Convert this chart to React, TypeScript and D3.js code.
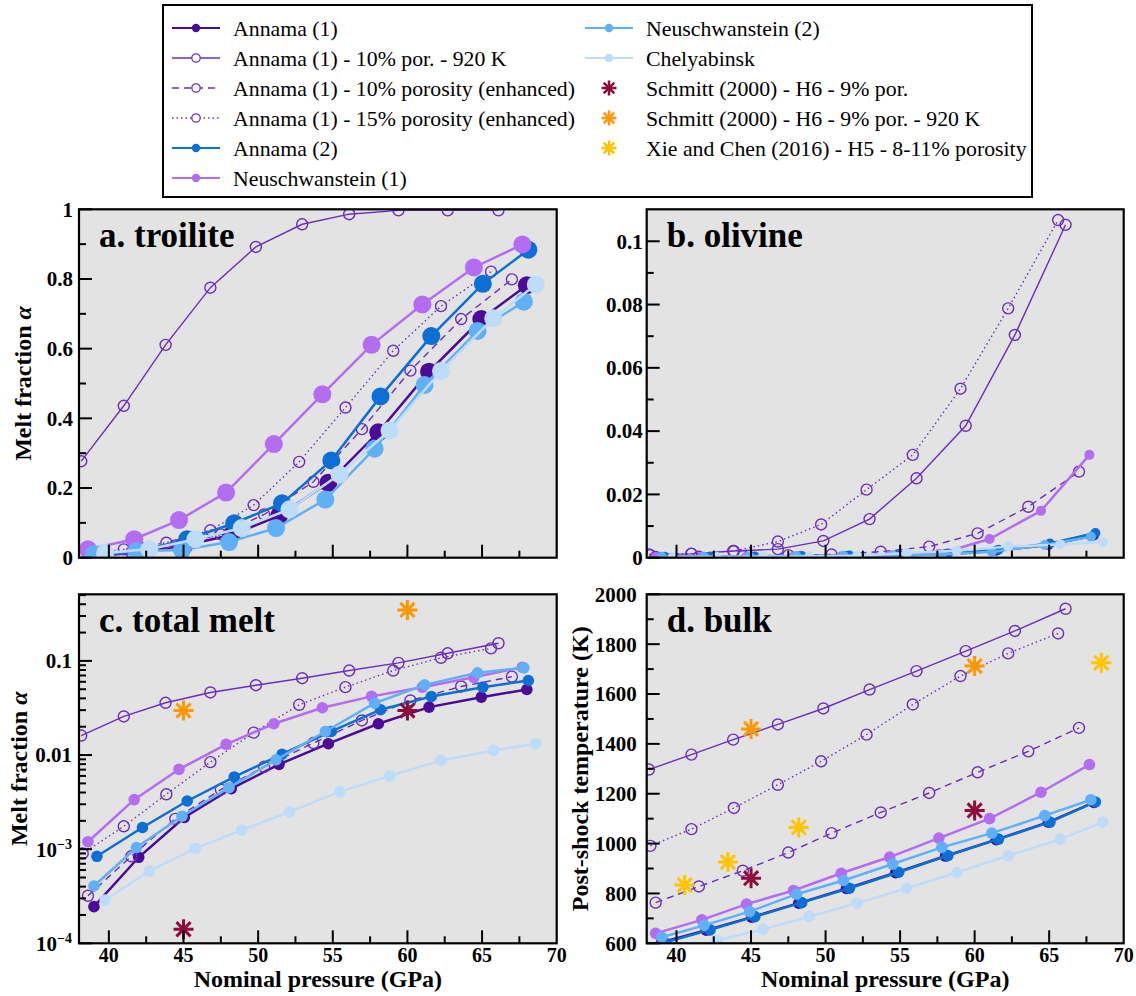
import React from "react";
import * as d3 from "d3";

const W = 1136;
const H = 996;

// Nominal pressures (GPa) for each simulation series
const P_A1 = [39.0, 42.0, 45.05, 48.2, 51.4, 54.7, 58.05, 61.45, 64.95, 68.0];
const P_A1_920 = [38.15, 41.0, 43.8, 46.8, 49.85, 52.95, 56.1, 59.4, 62.7, 66.1];
const P_A1_10E = [38.6, 41.5, 44.45, 47.5, 50.4, 53.7, 56.95, 60.2, 63.6, 67.0];
const P_A1_15E = [38.25, 41.0, 43.85, 46.8, 49.7, 52.75, 55.85, 59.05, 62.25, 65.6];
const P_A2 = [39.2, 42.25, 45.25, 48.4, 51.6, 54.9, 58.2, 61.6, 65.05, 68.1];
const P_N1 = [38.6, 41.7, 44.7, 47.85, 51.05, 54.3, 57.6, 61.0, 64.45, 67.7];
const P_N2 = [39.0, 41.85, 44.9, 48.05, 51.2, 54.5, 57.8, 61.15, 64.7, 67.8];
const P_CH = [39.75, 42.7, 45.8, 48.9, 52.1, 55.45, 58.8, 62.25, 65.75, 68.6];

// a. troilite melt fraction
const TRO_A1 = [0.005, 0.015, 0.035, 0.065, 0.12, 0.215, 0.36, 0.534, 0.685, 0.782];
const TRO_A1_920 = [0.277, 0.436, 0.611, 0.775, 0.892, 0.957, 0.986, 0.997, 0.997, 0.997];
const TRO_A1_10E = [0.003, 0.015, 0.035, 0.067, 0.124, 0.218, 0.369, 0.537, 0.685, 0.799];
const TRO_A1_15E = [0.008, 0.024, 0.043, 0.079, 0.151, 0.275, 0.431, 0.594, 0.722, 0.821];
const TRO_A2 = [0.006, 0.02, 0.053, 0.099, 0.156, 0.279, 0.463, 0.636, 0.786, 0.884];
const TRO_N1 = [0.024, 0.053, 0.108, 0.187, 0.326, 0.469, 0.611, 0.727, 0.833, 0.899];
const TRO_N2 = [0.01, 0.019, 0.022, 0.045, 0.085, 0.167, 0.313, 0.496, 0.651, 0.735];
const TRO_CH = [0.014, 0.024, 0.053, 0.085, 0.139, 0.239, 0.365, 0.536, 0.687, 0.784];

// b. olivine melt fraction
const OLI_A1 = [0.0002, 0.0002, 0.0003, 0.0004, 0.0005, 0.0007, 0.0011, 0.0022, 0.004, 0.007];
const OLI_A1_920 = [0.001, 0.0012, 0.0021, 0.0027, 0.0053, 0.0122, 0.0251, 0.0417, 0.0704, 0.1052];
const OLI_A1_10E = [0.0002, 0.0003, 0.0005, 0.0008, 0.001, 0.0019, 0.0035, 0.0077, 0.0161, 0.0272];
const OLI_A1_15E = [0.0008, 0.0013, 0.0021, 0.0051, 0.0105, 0.0215, 0.0325, 0.0534, 0.0788, 0.1067];
const OLI_A2 = [0.0003, 0.0003, 0.0004, 0.0005, 0.0007, 0.0009, 0.0013, 0.0025, 0.0045, 0.0078];
const OLI_N1 = [0.0002, 0.0002, 0.0003, 0.0003, 0.0004, 0.0006, 0.0012, 0.0059, 0.0148, 0.0325];
const OLI_N2 = [0.0003, 0.0003, 0.0004, 0.0005, 0.0006, 0.0008, 0.001, 0.0019, 0.004, 0.0066];
const OLI_CH = [0.0002, 0.0002, 0.0003, 0.0004, 0.0006, 0.0015, 0.0022, 0.0035, 0.0042, 0.005];

// c. total melt fraction
const TOT_A1 = [0.000245, 0.00082, 0.00217, 0.0044, 0.00796, 0.0132, 0.0215, 0.0323, 0.0412, 0.0497];
const TOT_A1_920 = [0.0161, 0.0257, 0.0359, 0.0462, 0.0552, 0.0655, 0.079, 0.0953, 0.1205, 0.154];
const TOT_A1_10E = [0.00032, 0.00084, 0.0021, 0.0043, 0.0075, 0.0134, 0.0233, 0.038, 0.0535, 0.068];
const TOT_A1_15E = [0.0009, 0.00175, 0.00383, 0.0084, 0.0173, 0.0342, 0.0526, 0.079, 0.108, 0.136];
const TOT_A2 = [0.00084, 0.0017, 0.00325, 0.00585, 0.0102, 0.0178, 0.0303, 0.0419, 0.0526, 0.0619];
const TOT_N1 = [0.0012, 0.00336, 0.00705, 0.013, 0.0215, 0.0318, 0.042, 0.0526, 0.067, 0.0857];
const TOT_N2 = [0.000406, 0.00104, 0.00224, 0.0045, 0.0089, 0.0178, 0.0355, 0.0557, 0.0747, 0.0843];
const TOT_CH = [0.000288, 0.000585, 0.00102, 0.00159, 0.00249, 0.00406, 0.00598, 0.00877, 0.0112, 0.0132];

// d. bulk post-shock temperature (K)
const BLK_A1 = [604, 653, 705, 761, 820, 883, 950, 1016, 1086, 1165];
const BLK_A1_920 = [1297, 1357, 1417, 1478, 1542, 1618, 1692, 1772, 1853, 1942];
const BLK_A1_10E = [763, 828, 891, 964, 1042, 1125, 1203, 1286, 1370, 1464];
const BLK_A1_15E = [991, 1058, 1143, 1236, 1330, 1437, 1558, 1672, 1763, 1843];
const BLK_A2 = [603, 654, 707, 763, 821, 885, 952, 1018, 1086, 1167];
const BLK_N1 = [640, 694, 757, 812, 881, 946, 1022, 1100, 1206, 1317];
const BLK_N2 = [624, 672, 727, 797, 852, 918, 985, 1042, 1112, 1176];
const BLK_CH = [565, 611, 656, 707, 761, 821, 884, 951, 1018, 1086];

// Experimental references (asterisks)
const SCH_P = [45, 60];
const SCH_TOT = [0.000141, 0.0297];
const SCH_BLK = [861, 1133];
const SCH920_P = [45, 60];
const SCH920_TOT = [0.0297, 0.348];
const SCH920_BLK = [1460, 1712];
const XIE_P = [40.55, 43.45, 48.2, 68.5];
const XIE_BLK = [834, 926, 1065, 1725];

const X_TICKS = [40, 42.5, 45, 47.5, 50, 52.5, 55, 57.5, 60, 62.5, 65, 67.5];
const X_LABELS = [40, 45, 50, 55, 60, 65, 70];

const C_A1 = "#4b0a98";
const C_OPEN = "#6b2ec2";
const C_A2 = "#0b6fd6";
const C_N1 = "#b36cf2";
const C_N2 = "#5fb0f6";
const C_CH = "#bcdcfa";
const C_SCH = "#8e0b3b";
const C_SCH920 = "#ff9800";
const C_XIE = "#ffc400";

const FONT = "'Liberation Serif', 'Times New Roman', Times, serif";

type Series = {
  name: string;
  color: string;
  filled: boolean;
  dash: string | null;
  lw: number;
  P: number[];
  vals: { a: number[]; b: number[]; c: number[]; d: number[] };
};

const SERIES: Series[] = [
  { name: "Annama (1)", color: C_A1, filled: true, dash: null, lw: 2.5, P: P_A1, vals: { a: TRO_A1, b: OLI_A1, c: TOT_A1, d: BLK_A1 } },
  { name: "Annama (1) - 10% por. - 920 K", color: C_OPEN, filled: false, dash: null, lw: 1.4, P: P_A1_920, vals: { a: TRO_A1_920, b: OLI_A1_920, c: TOT_A1_920, d: BLK_A1_920 } },
  { name: "Annama (1) - 10% porosity (enhanced)", color: C_OPEN, filled: false, dash: "7,5", lw: 1.4, P: P_A1_10E, vals: { a: TRO_A1_10E, b: OLI_A1_10E, c: TOT_A1_10E, d: BLK_A1_10E } },
  { name: "Annama (1) - 15% porosity (enhanced)", color: C_OPEN, filled: false, dash: "1.5,3", lw: 1.4, P: P_A1_15E, vals: { a: TRO_A1_15E, b: OLI_A1_15E, c: TOT_A1_15E, d: BLK_A1_15E } },
  { name: "Annama (2)", color: C_A2, filled: true, dash: null, lw: 2.5, P: P_A2, vals: { a: TRO_A2, b: OLI_A2, c: TOT_A2, d: BLK_A2 } },
  { name: "Neuschwanstein (1)", color: C_N1, filled: true, dash: null, lw: 2.5, P: P_N1, vals: { a: TRO_N1, b: OLI_N1, c: TOT_N1, d: BLK_N1 } },
  { name: "Neuschwanstein (2)", color: C_N2, filled: true, dash: null, lw: 2.5, P: P_N2, vals: { a: TRO_N2, b: OLI_N2, c: TOT_N2, d: BLK_N2 } },
  { name: "Chelyabinsk", color: C_CH, filled: true, dash: null, lw: 2.5, P: P_CH, vals: { a: TRO_CH, b: OLI_CH, c: TOT_CH, d: BLK_CH } },
];

type Star = { name: string; color: string; P: number[]; c: number[] | null; d: number[] | null };
const STARS: Star[] = [
  { name: "Schmitt (2000) - H6 - 9% por.", color: C_SCH, P: SCH_P, c: SCH_TOT, d: SCH_BLK },
  { name: "Schmitt (2000) - H6 - 9% por. - 920 K", color: C_SCH920, P: SCH920_P, c: SCH920_TOT, d: SCH920_BLK },
  { name: "Xie and Chen (2016) - H5 - 8-11% porosity", color: C_XIE, P: XIE_P, c: null, d: XIE_BLK },
];

type PanelDef = {
  key: "a" | "b" | "c" | "d";
  title: string;
  left: number;
  right: number;
  top: number;
  bottom: number;
  log: boolean;
  domain: [number, number];
  major: number[];
  minor: number[];
  labels: (v: number) => React.ReactNode;
  labelGap: number;
  xLabels: boolean;
  rFilled: number;
  rOpen: number;
  yTitle: string | null;
  yTitleX: number;
};

const fmtLin = (v: number) => String(+v.toFixed(3));
const logMinor: number[] = [];
for (let e = -4; e <= -1; e++) for (let k = 2; k <= 9; k++) { const v = k * Math.pow(10, e); if (v <= 0.51) logMinor.push(v); }

const PANELS: PanelDef[] = [
  { key: "a", title: "a. troilite", left: 79, right: 556.7, top: 209.3, bottom: 557.7, log: false, domain: [0, 1],
    major: [0, 0.2, 0.4, 0.6, 0.8, 1], minor: [0.1, 0.3, 0.5, 0.7, 0.9], labels: fmtLin, labelGap: 6, xLabels: false,
    rFilled: 9, rOpen: 5.5, yTitle: "Melt fraction", yTitleX: 23 },
  { key: "b", title: "b. olivine", left: 646.7, right: 1123.7, top: 209.3, bottom: 557.7, log: false, domain: [0, 0.1101],
    major: [0, 0.02, 0.04, 0.06, 0.08, 0.1], minor: [0.01, 0.03, 0.05, 0.07, 0.09], labels: fmtLin, labelGap: 4, xLabels: false,
    rFilled: 5, rOpen: 5.5, yTitle: null, yTitleX: 0 },
  { key: "c", title: "c. total melt", left: 79, right: 556.7, top: 594.3, bottom: 943.3, log: true, domain: [1e-4, 0.51],
    major: [1e-4, 1e-3, 1e-2, 1e-1], minor: logMinor,
    labels: (v: number) => v >= 0.01 ? String(v) : (<><tspan>10</tspan><tspan dy={-8} fontSize={14}>{"\u2212" + Math.round(-Math.log10(v))}</tspan></>),
    labelGap: 7, xLabels: true, rFilled: 5.8, rOpen: 5.5, yTitle: "Melt fraction", yTitleX: 19 },
  { key: "d", title: "d. bulk", left: 646.7, right: 1123.7, top: 594.3, bottom: 943.3, log: false, domain: [600, 2000],
    major: [600, 800, 1000, 1200, 1400, 1600, 1800, 2000], minor: [700, 900, 1100, 1300, 1500, 1700, 1900], labels: fmtLin,
    labelGap: 10, xLabels: true, rFilled: 5.8, rOpen: 5.5, yTitle: "Post-shock temperature (K)", yTitleX: 580 },
];

function starPath(cx: number, cy: number, r: number) {
  let d = "";
  for (let i = 0; i < 4; i++) {
    const a = (i * Math.PI) / 4;
    const dx = Math.cos(a) * r, dy = Math.sin(a) * r;
    d += `M${cx - dx},${cy - dy}L${cx + dx},${cy + dy}`;
  }
  return d;
}

function Panel({ p }: { p: PanelDef }) {
  const x = d3.scaleLinear().domain([38, 70]).range([p.left, p.right]);
  const y = p.log
    ? d3.scaleLog().domain(p.domain).range([p.bottom, p.top])
    : d3.scaleLinear().domain(p.domain).range([p.bottom, p.top]);
  const clipId = "clip-" + p.key;
  const midY = (p.top + p.bottom) / 2;
  const midX = (p.left + p.right) / 2;
  return (
    <g>
      <defs>
        <clipPath id={clipId}>
          <rect x={p.left} y={p.top} width={p.right - p.left} height={p.bottom - p.top} />
        </clipPath>
      </defs>
      <rect x={p.left} y={p.top} width={p.right - p.left} height={p.bottom - p.top} fill="#e3e3e3" />
      <g clipPath={`url(#${clipId})`}>
        {SERIES.map((s, i) => {
          const vals = s.vals[p.key];
          const pts: [number, number][] = s.P.map((pp, j) => [pp, vals[j]]);
          const line = d3.line<[number, number]>().x((d) => x(d[0])).y((d) => y(d[1]));
          const r = s.filled ? p.rFilled : p.rOpen;
          return (
            <g key={i}>
              <path d={line(pts) || ""} fill="none" stroke={s.color} strokeWidth={s.lw}
                strokeDasharray={s.dash || undefined} />
              {pts.map((d, j) => (
                <circle key={j} cx={x(d[0])} cy={y(d[1])} r={r}
                  fill={s.filled ? s.color : "none"} stroke={s.color} strokeWidth={s.filled ? 0 : 1.4} />
              ))}
            </g>
          );
        })}
        {STARS.map((s, i) => {
          const vals = p.key === "c" ? s.c : p.key === "d" ? s.d : null;
          if (!vals) return null;
          return (
            <g key={"s" + i}>
              {s.P.map((pp, j) => (
                <path key={j} d={starPath(x(pp), y(vals[j]), 10)} stroke={s.color} strokeWidth={3} fill="none" />
              ))}
            </g>
          );
        })}
      </g>
      {X_TICKS.map((t) => {
        const major = t % 5 === 0;
        return <line key={"xt" + t} x1={x(t)} x2={x(t)} y1={p.bottom} y2={p.bottom - (major ? 13 : 7)} stroke="#000" strokeWidth={2} />;
      })}
      {p.major.map((t) => (
        <line key={"ym" + t} x1={p.left} x2={p.left + 13} y1={y(t)} y2={y(t)} stroke="#000" strokeWidth={2} />
      ))}
      {p.minor.map((t) => (
        <line key={"yn" + t} x1={p.left} x2={p.left + 7} y1={y(t)} y2={y(t)} stroke="#000" strokeWidth={2} />
      ))}
      <rect x={p.left} y={p.top} width={p.right - p.left} height={p.bottom - p.top} fill="none" stroke="#000" strokeWidth={2.2} />
      {p.major.map((t) => (
        <text key={"yl" + t} x={p.left - p.labelGap} y={y(t)} dy="0.35em" textAnchor="end"
          fontFamily={FONT} fontWeight="bold" fontSize={21}>{p.labels(t)}</text>
      ))}
      {p.xLabels && X_LABELS.map((t) => (
        <text key={"xl" + t} x={x(t)} y={p.bottom + 19} textAnchor="middle"
          fontFamily={FONT} fontWeight="bold" fontSize={20}>{t}</text>
      ))}
      {p.xLabels && (
        <text x={midX} y={987} textAnchor="middle" fontFamily={FONT} fontWeight="bold" fontSize={24}>Nominal pressure (GPa)</text>
      )}
      {p.yTitle && (
        <text transform={`translate(${p.yTitleX},${midY}) rotate(-90)`} textAnchor="middle" dy="0.35em"
          fontFamily={FONT} fontWeight="bold" fontSize={24}>
          {p.yTitle}
          {p.yTitle === "Melt fraction" && <tspan fontStyle="italic">{" \u03b1"}</tspan>}
        </text>
      )}
      <text x={p.left + 20} y={p.top + 37.5} fontFamily={FONT} fontWeight="bold" fontSize={35}>{p.title}</text>
    </g>
  );
}

function Legend() {
  const left = 163, top = 5, right = 1032, bottom = 197;
  const rowY = (i: number) => 28 + 30 * i;
  const col1 = SERIES.slice(0, 6);
  const col2 = SERIES.slice(6);
  const entry = (s: Series, cx: number, cy: number, key: string) => (
    <g key={key}>
      <line x1={cx - 24} x2={cx + 24} y1={cy} y2={cy} stroke={s.color} strokeWidth={s.filled ? 2 : 1.3}
        strokeDasharray={s.dash || undefined} />
      <circle cx={cx} cy={cy} r={4.2} fill={s.filled ? s.color : "#fff"} stroke={s.color} strokeWidth={s.filled ? 0 : 1.3} />
      <text x={cx + 37} y={cy} dy="0.35em" fontFamily={FONT} fontSize={21.8}>{s.name}</text>
    </g>
  );
  return (
    <g>
      <rect x={left} y={top} width={right - left} height={bottom - top} fill="#fff" stroke="#000" strokeWidth={2} />
      {col1.map((s, i) => entry(s, 196, rowY(i), "l1" + i))}
      {col2.map((s, i) => entry(s, 609, rowY(i), "l2" + i))}
      {STARS.map((s, i) => (
        <g key={"ls" + i}>
          <path d={starPath(609, rowY(i + 2), 7.5)} stroke={s.color} strokeWidth={2.5} fill="none" />
          <text x={646} y={rowY(i + 2)} dy="0.35em" fontFamily={FONT} fontSize={21.8}>{s.name}</text>
        </g>
      ))}
    </g>
  );
}

export default function App() {
  return (
    <svg width={W} height={H} viewBox={`0 0 ${W} ${H}`} style={{ position: "absolute", left: 0, top: 0, background: "#fff" }}>
      <rect x={0} y={0} width={W} height={H} fill="#fff" />
      {PANELS.map((p) => <Panel key={p.key} p={p} />)}
      <Legend />
    </svg>
  );
}
